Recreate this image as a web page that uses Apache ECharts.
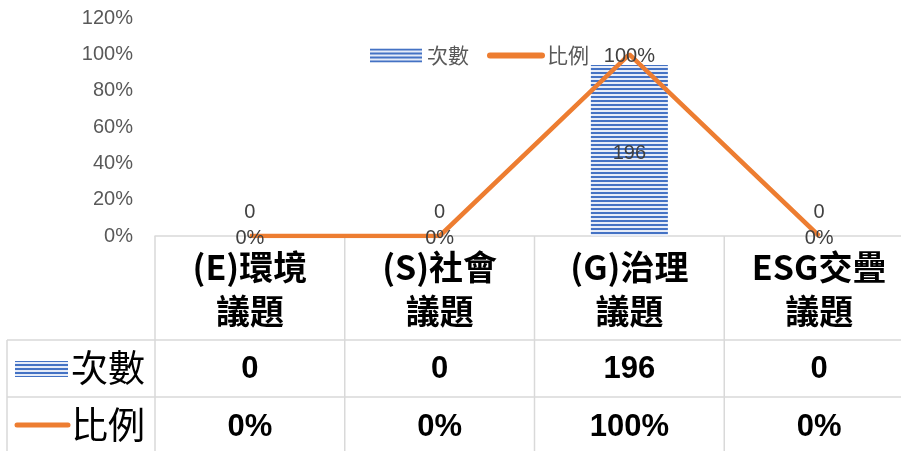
<!DOCTYPE html>
<html>
<head>
<meta charset="utf-8">
<script src="https://cdn.jsdelivr.net/npm/echarts@6/dist/echarts.min.js"></script>
<style>
  html, body { margin: 0; padding: 0; background: #fff; overflow: hidden; }
  /* the plot runs a little past the right edge of the window, as in the source */
  #chart { width: 914px; height: 451px; }
</style>
</head>
<body>
<div id="chart"></div>
<script>
  // --- Data ---
  const categories = ['(E)環境議題', '(S)社會議題', '(G)治理議題', 'ESG交疊議題'];
  const counts = [0, 0, 196, 0];
  const ratios = [0, 0, 1, 0];
  const seriesNames = ['次數', '比例'];

  const BLUE = '#4472C4';
  const ORANGE = '#ED7D31';
  const GRID_LINE = '#d9d9d9';
  const CJK = '"Noto Sans CJK TC", "Liberation Sans", sans-serif';

  // horizontal stripe pattern used by the bar and its keys
  function stripes() {
    const c = document.createElement('canvas');
    c.width = 4; c.height = 4;
    const ctx = c.getContext('2d');
    ctx.fillStyle = '#e6ecf8';
    ctx.fillRect(0, 0, 4, 4);
    ctx.fillStyle = BLUE;
    ctx.fillRect(0, 0, 4, 2);
    return c;
  }
  const stripeFill = { image: stripes(), repeat: 'repeat' };

  const chart = echarts.init(document.getElementById('chart'), null, { renderer: 'canvas' });

  const pct = v => Math.round(v * 100) + '%';

  chart.setOption({
    animation: false,
    textStyle: { fontFamily: '"Liberation Sans", sans-serif' },
    grid: { left: 155, top: 18, bottom: 215, right: 0 },
    legend: {
      top: 40,
      left: 365,
      itemWidth: 52,
      itemHeight: 14,
      itemGap: 18,
      textStyle: { color: '#595959', fontSize: 21, fontFamily: CJK },
      data: [
        { name: seriesNames[0], icon: 'rect' },
        {
          name: seriesNames[1],
          itemStyle: { opacity: 0 },
          lineStyle: { width: 6, cap: 'round' }
        }
      ]
    },
    xAxis: {
      type: 'category',
      data: categories,
      axisLine: { lineStyle: { color: GRID_LINE, width: 1.5 } },
      axisTick: { show: false },
      axisLabel: {
        margin: 9,
        interval: 0,
        color: '#000',
        fontSize: 34,
        lineHeight: 44,
        fontWeight: 'bold',
        fontFamily: CJK,
        formatter: v => v.replace('議題', '\n議題')
      }
    },
    yAxis: [
      {
        type: 'value',
        min: 0,
        max: 1.2,
        interval: 0.2,
        splitLine: { show: false },
        axisLine: { show: false },
        axisTick: { show: false },
        axisLabel: {
          margin: 22,
          color: '#595959',
          fontSize: 20,
          formatter: v => pct(v)
        }
      },
      { type: 'value', min: 0, max: 250, show: false, splitLine: { show: false } }
    ],
    series: [
      {
        name: seriesNames[0],
        type: 'bar',
        yAxisIndex: 1,
        barWidth: 77,
        itemStyle: { color: stripeFill },
        data: counts.map(v => ({
          value: v,
          label: v > 0
            ? { show: true, position: 'inside', offset: [0, 3], color: '#404040', fontSize: 20 }
            : { show: true, position: 'top', distance: 14, color: '#404040', fontSize: 20 }
        }))
      },
      {
        name: seriesNames[1],
        type: 'line',
        yAxisIndex: 0,
        data: ratios,
        symbol: 'circle',
        symbolSize: 1,
        itemStyle: { color: ORANGE },
        lineStyle: { color: ORANGE, width: 4.5 },
        label: {
          show: true,
          position: 'inside',
          offset: [0, 2],
          color: '#404040',
          fontSize: 20,
          formatter: p => pct(p.value)
        },
        z: 3
      }
    ]
  });

  // --- Data table below the plot ---
  function drawTable() {
    const xs = categories.map(c => chart.convertToPixel({ xAxisIndex: 0 }, c));
    const band = xs.length > 1 ? xs[1] - xs[0] : 190;
    const yAxis0 = chart.convertToPixel({ yAxisIndex: 0 }, 0);
    const W = chart.getWidth(), H = chart.getHeight();
    const row2Top = 340, row3Top = 397;
    const line = (x1, y1, x2, y2) => ({
      type: 'line', silent: true,
      shape: { x1, y1, x2, y2 },
      style: { stroke: GRID_LINE, lineWidth: 1.5 }
    });

    const els = [];
    // vertical borders
    xs.forEach(x => els.push(line(x - band / 2, yAxis0, x - band / 2, H)));
    els.push(line(7, row2Top, 7, H));
    // horizontal borders
    els.push(line(7, row2Top, W, row2Top));
    els.push(line(7, row3Top, W, row3Top));

    // row keys
    els.push({
      type: 'rect', silent: true,
      shape: { x: 15, y: 361, width: 53, height: 16 },
      style: { fill: stripeFill }
    });
    els.push({
      type: 'line', silent: true,
      shape: { x1: 17, y1: 425, x2: 68, y2: 425 },
      style: { stroke: ORANGE, lineWidth: 5, lineCap: 'round' }
    });
    const head = (text, y) => ({
      type: 'text', silent: true,
      style: { text, x: 71, y, fill: '#000', fontSize: 37, fontFamily: CJK, verticalAlign: 'middle' }
    });
    els.push(head(seriesNames[0], 368));
    els.push(head(seriesNames[1], 425));

    const cell = (text, x, y) => ({
      type: 'text', silent: true,
      style: {
        text, x, y, fill: '#000', fontSize: 31, fontWeight: 'bold',
        fontFamily: '"Liberation Sans", sans-serif', align: 'center', verticalAlign: 'middle'
      }
    });
    xs.forEach((x, i) => {
      els.push(cell(String(counts[i]), x, 369));
      els.push(cell(pct(ratios[i]), x, 427));
    });

    chart.setOption({ graphic: els });
  }
  drawTable();
</script>
</body>
</html>
